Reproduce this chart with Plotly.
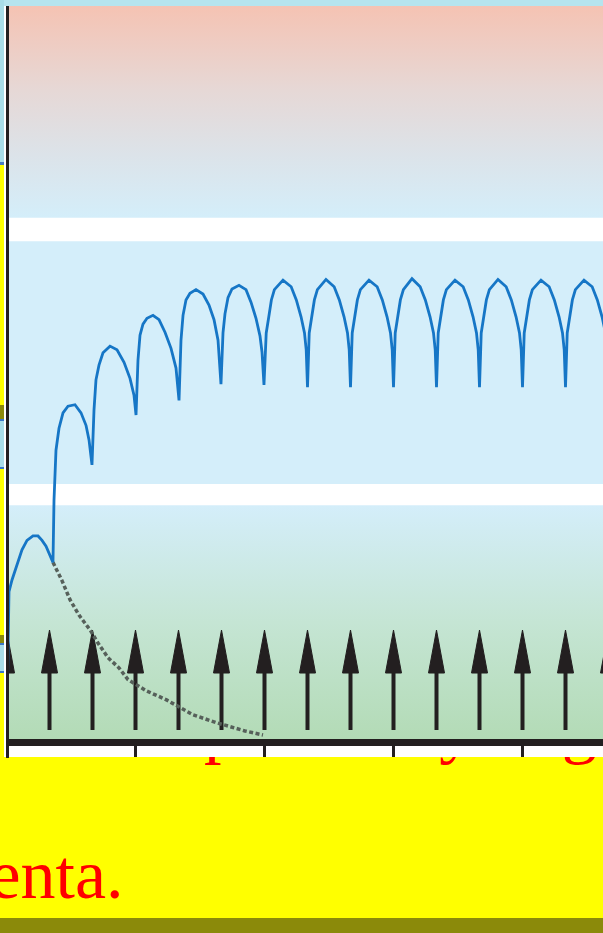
import plotly.graph_objects as go

W, H = 603, 933

# ------------------------------------------------------------------ data
# dosing times (in dosing intervals) -> arrows
dose_times = [0, 1, 2, 3, 4, 5, 6, 7, 8, 9, 10, 11, 12, 13, 14]
tick_times = [3, 6, 9, 12]

# thresholds of the concentration bands (relative units, axis 0..100)
toxic_level = 71.1        # upper edge of white band (top)
upper_gap_low = 67.9
effective_level = 34.8    # upper edge of lower white band
lower_gap_low = 31.9

# repeated dosing: plasma concentration (blue curve)
conc_t = [
    0.000, 0.058, 0.128, 0.244, 0.360, 0.477, 0.616, 0.733, 0.826, 0.919, 1.012, 1.081,
    1.105, 1.151, 1.221, 1.314, 1.430, 1.593, 1.733, 1.849, 1.919, 1.965, 1.988,
    2.035, 2.081, 2.151, 2.244, 2.407, 2.570, 2.733, 2.872, 2.965, 3.012,
    3.058, 3.105, 3.174, 3.267, 3.407, 3.547, 3.686, 3.826, 3.942, 4.012,
    4.058, 4.105, 4.174, 4.267, 4.407, 4.570, 4.709, 4.826, 4.919, 4.988,
    5.035, 5.081, 5.151, 5.244, 5.407, 5.570, 5.686, 5.802, 5.895, 5.942, 5.988,
    6.04, 6.10, 6.16, 6.23, 6.43, 6.62, 6.74, 6.85, 6.93, 6.97, 7.00,
    7.04, 7.10, 7.16, 7.23, 7.43, 7.62, 7.74, 7.85, 7.93, 7.97, 8.00,
    8.04, 8.10, 8.16, 8.23, 8.43, 8.62, 8.74, 8.85, 8.93, 8.97, 9.00,
    9.04, 9.10, 9.16, 9.23, 9.43, 9.62, 9.74, 9.85, 9.93, 9.97, 10.00,
    10.04, 10.10, 10.16, 10.23, 10.43, 10.62, 10.74, 10.85, 10.93, 10.97, 11.00,
    11.04, 11.10, 11.16, 11.23, 11.43, 11.62, 11.74, 11.85, 11.93, 11.97, 12.00,
    12.04, 12.10, 12.16, 12.23, 12.43, 12.62, 12.74, 12.85, 12.93, 12.97, 13.00,
    13.04, 13.10, 13.16, 13.23, 13.43, 13.62, 13.74, 13.85, 13.93, 13.97, 14.00,
]
conc_c = [
    0.0, 20.1, 21.7, 23.7, 25.8, 27.1, 27.7, 27.7, 27.1, 26.3, 25.1, 24.1,
    32.6, 39.4, 42.4, 44.5, 45.4, 45.6, 44.5, 42.8, 40.8, 38.7, 37.4,
    44.9, 49.0, 51.0, 52.7, 53.6, 53.1, 51.4, 49.2, 46.9, 44.2,
    51.7, 55.1, 56.6, 57.4, 57.8, 57.2, 55.5, 53.3, 50.6, 46.2,
    54.4, 57.8, 59.9, 60.8, 61.3, 60.7, 59.2, 57.2, 54.4, 48.4,
    55.4, 58.0, 60.2, 61.4, 61.9, 61.3, 59.6, 57.4, 55.0, 52.8, 48.3,
    55.4, 57.6, 59.9, 61.3, 62.6, 61.7, 59.9, 57.6, 55.4, 53.1, 48.0,
    55.4, 57.6, 59.9, 61.3, 62.7, 61.7, 59.9, 57.6, 55.4, 53.1, 48.0,
    55.4, 57.6, 59.9, 61.3, 62.6, 61.7, 59.9, 57.6, 55.4, 53.1, 48.0,
    55.4, 57.6, 59.9, 61.3, 62.8, 61.7, 59.9, 57.6, 55.4, 53.1, 48.0,
    55.4, 57.6, 59.9, 61.3, 62.6, 61.7, 59.9, 57.6, 55.4, 53.1, 48.0,
    55.4, 57.6, 59.9, 61.3, 62.7, 61.7, 59.9, 57.6, 55.4, 53.1, 48.0,
    55.4, 57.6, 59.9, 61.3, 62.6, 61.7, 59.9, 57.6, 55.4, 53.1, 48.0,
    55.4, 57.6, 59.9, 61.3, 62.6, 61.7, 59.9, 57.6, 55.4, 53.1, 48.0,
]

# single dose: elimination curve (grey dotted)
single_t = [1.081, 1.291, 1.477, 1.686, 1.942, 2.128, 2.360, 2.616, 2.826,
            3.244, 3.733, 4.337, 4.895, 5.547, 5.965]
single_c = [24.1, 21.6, 19.0, 16.9, 14.9, 13.1, 11.1, 9.7, 8.1,
            6.6, 5.3, 3.3, 2.2, 1.1, 0.55]

caption_lines = ["enta.", "proceso y llega al"]

# ------------------------------------------------------------------ styles
INK = "#231F20"
BLUE = "#1676C6"
GREY = "#56605A"
RED = "#FF0000"
YELLOW = "#FFFF00"
OLIVE = "#8B8A0A"

PX_PER_T = 43.0
T0_PX = 6.5
PLOT_L, PLOT_T, PLOT_B = 9, 6, 739
x_lo = (PLOT_L - T0_PX) / PX_PER_T
x_hi = (W - T0_PX) / PX_PER_T

head_hw = 8 / PX_PER_T      # arrow head half width (t units)
head_tip, head_base, shaft_bottom = 14.87, 9.0, 1.23

fig = go.Figure()


def band(y0, y1, color=None, scale=None):
    kw = dict(x=[-1, 15, 15, -1, -1], y=[y0, y0, y1, y1, y0], mode="lines",
              line=dict(width=0), fill="toself", hoverinfo="skip", showlegend=False)
    if scale:
        kw["fillgradient"] = dict(type="vertical", colorscale=scale, start=y0, stop=y1)
    else:
        kw["fillcolor"] = color
    return go.Scatter(**kw)


fig.add_trace(band(toxic_level, 100, scale=[[0, "#D4EEFA"], [0.3, "#DCE3E9"],
                                             [0.6, "#E6D8D6"], [1, "#F5C3B3"]]))
fig.add_trace(band(effective_level, upper_gap_low, color="#D4EEFA"))
fig.add_trace(band(0, lower_gap_low, scale=[[0, "#B3DBB6"], [0.5, "#C5E5D4"],
                                            [1, "#D4EEFA"]]))

# arrows (doses)
sx, sy, hx, hy = [], [], [], []
for t in dose_times:
    sx += [t, t, None]
    sy += [shaft_bottom, head_base + 0.5, None]
    hx += [t - head_hw, t, t + head_hw, t - head_hw, None]
    hy += [head_base, head_tip, head_base, head_base, None]
fig.add_trace(go.Scatter(x=sx, y=sy, mode="lines", line=dict(color=INK, width=4),
                         hoverinfo="skip", showlegend=False))
fig.add_trace(go.Scatter(x=hx, y=hy, mode="lines", line=dict(color=INK, width=1),
                         fill="toself", fillcolor=INK, hoverinfo="skip", showlegend=False))

# single dose curve
fig.add_trace(go.Scatter(x=single_t, y=single_c, mode="lines",
                         line=dict(color=GREY, width=3.5, dash="4px,2.5px"),
                         hoverinfo="skip", showlegend=False))
# repeated dose curve
fig.add_trace(go.Scatter(x=conc_t, y=conc_c, mode="lines",
                         line=dict(color=BLUE, width=2.8),
                         hoverinfo="skip", showlegend=False))

# slide text behind/below the chart (clipped to the yellow strip)
fig.add_trace(go.Scatter(x=[-10.5, 204], y=[898 - 17.5, 750 - 17.5],
                         text=caption_lines, mode="text", textposition="middle right",
                         textfont=dict(family="Liberation Serif", size=70, color=RED),
                         xaxis="x2", yaxis="y2", cliponaxis=True,
                         hoverinfo="skip", showlegend=False))


def rect_px(x0, y0, x1, y1, color, layer="below"):
    return dict(type="rect", xref="paper", yref="paper", x0=x0 / W, x1=x1 / W,
                y0=1 - y1 / H, y1=1 - y0 / H, fillcolor=color, line=dict(width=0),
                layer=layer)


shapes = [
    rect_px(0, 0, W, 6, "#B6E4EE"),
    rect_px(0, 0, 4, 162, "#A9DDE8"),
    rect_px(0, 162, 4, 165, "#4A7CC0"),
    rect_px(0, 165, 4, 757, YELLOW),
    rect_px(0, 405, 4, 419, OLIVE),
    rect_px(0, 419, 4, 421, "#3A78C8"),
    rect_px(0, 421, 4, 467, "#A9DDE8"),
    rect_px(0, 467, 4, 469, "#3A78C8"),
    rect_px(0, 635, 4, 643, OLIVE),
    rect_px(0, 643, 4, 645, "#3A78C8"),
    rect_px(0, 645, 4, 671, "#A9DDE8"),
    rect_px(0, 671, 4, 673, "#3A78C8"),
    rect_px(0, 757, W, 918, YELLOW),
    rect_px(0, 918, W, 933, OLIVE),
    dict(type="line", xref="paper", yref="paper", x0=7.5 / W, x1=7.5 / W,
         y0=1 - 758 / H, y1=1 - 6 / H, line=dict(color=INK, width=3), layer="above"),
]

fig.update_layout(
    width=W, height=H, margin=dict(l=0, r=0, t=0, b=0),
    paper_bgcolor="white", plot_bgcolor="rgba(0,0,0,0)", showlegend=False,
    shapes=shapes,
    xaxis=dict(domain=[PLOT_L / W, 1], range=[x_lo, x_hi], showgrid=False,
               zeroline=False, showline=True, linewidth=7, linecolor=INK,
               ticks="outside", ticklen=11, tickwidth=3, tickcolor=INK,
               tickvals=tick_times, showticklabels=False, fixedrange=True),
    yaxis=dict(domain=[1 - PLOT_B / H, 1 - PLOT_T / H], range=[0, 100],
               visible=False, fixedrange=True),
    xaxis2=dict(domain=[0, 1], range=[0, W], visible=False, anchor="y2"),
    yaxis2=dict(domain=[1 - 918 / H, 1 - 757 / H], range=[918, 757],
                visible=False, anchor="x2"),
)

fig.write_html(
    "out.html",
    config={"displayModeBar": False},
    post_script="document.body.style.margin='0';document.body.style.overflow='hidden';",
)
